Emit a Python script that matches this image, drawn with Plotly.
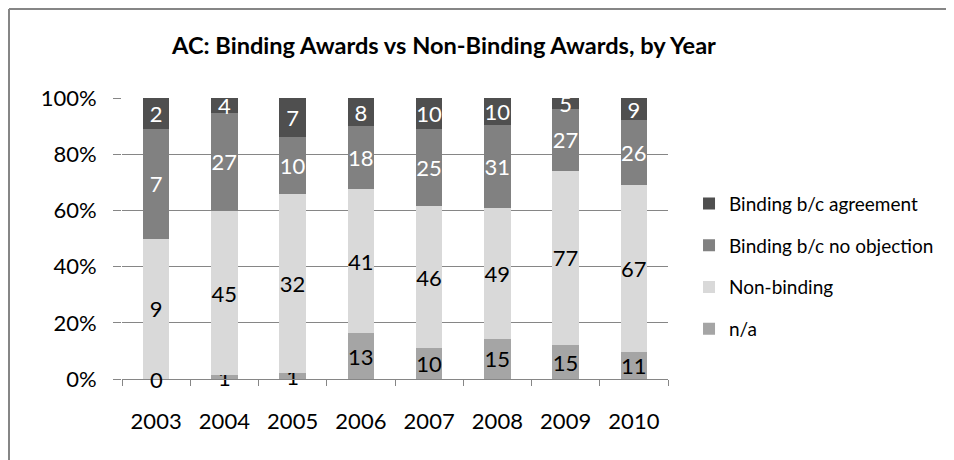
import plotly.graph_objs as go

# data
years = ['2003', '2004', '2005', '2006', '2007', '2008', '2009', '2010']
na_counts = [0, 1, 1, 13, 10, 15, 15, 11]
non_binding = [9, 45, 32, 41, 46, 49, 77, 67]
binding_no_objection = [7, 27, 10, 18, 25, 31, 27, 26]
binding_agreement = [2, 4, 7, 8, 10, 10, 5, 9]

series_names = ['n/a', 'Non-binding', 'Binding b/c no objection', 'Binding b/c agreement']
series_values = [na_counts, non_binding, binding_no_objection, binding_agreement]
series_colors = ['#a5a5a5', '#d9d9d9', '#818181', '#4f4f4f']
label_colors = ['black', 'black', 'white', 'white']

FONT = 'Lato'
GRID = '#868686'

# plot area in pixels (used for the outer frame lines)
W, H = 954, 460
L, R, T, B = 114, 294, 90, 89


def px_to_paper_x(px):
    return (px - L) / (W - L - R)


def px_to_paper_y(py):
    return (H - B - py) / (H - T - B)


fig = go.Figure()
for i, (name, vals, color, tcolor) in enumerate(zip(series_names, series_values, series_colors, label_colors)):
    fig.add_trace(go.Bar(
        x=years, y=vals, name=name, legendgroup=name,
        legendrank=1000 - i,  # top of stack first in the legend
        marker_color=color, marker_line_width=0,
        text=[str(v) for v in vals],
        textposition='inside', insidetextanchor='middle',
        textangle=0, constraintext='none',
        textfont=dict(family=FONT, size=22, color=tcolor),
        cliponaxis=False,
    ))

# zero-height segments get no bar text, so label them at the baseline
for idx, v in enumerate(na_counts):
    if v == 0:
        fig.add_annotation(x=idx, y=0, xref='x', yref='y', text=str(v), showarrow=False,
                           yanchor='middle',
                           font=dict(family=FONT, size=22, color='black'))

fig.update_layout(
    barmode='stack',
    barnorm='percent',
    bargap=0.61,
    width=W, height=H,
    margin=dict(l=L, r=R, t=T, b=B),
    paper_bgcolor='white',
    plot_bgcolor='white',
    font=dict(family=FONT, size=22, color='black'),
    title=dict(
        text='<b>AC: Binding Awards vs Non-Binding Awards, by Year</b>',
        font=dict(family=FONT, size=23.6, color='black'),
        x=0.457, xref='container', xanchor='center',
        y=0.917, yref='container', yanchor='middle',
    ),
    legend=dict(
        x=1.0385, xanchor='left',
        y=0.4014, yanchor='middle',
        traceorder='grouped',
        tracegroupgap=14,
        font=dict(family=FONT, size=19, color='black'),
        bgcolor='rgba(0,0,0,0)',
    ),
    showlegend=True,
)

fig.update_xaxes(
    type='category',
    categoryorder='array', categoryarray=years,
    showline=True, linecolor=GRID, linewidth=1,
    ticks='outside', tickson='boundaries', ticklen=6, tickcolor=GRID,
    ticklabelstandoff=23,
    showgrid=False,
    tickfont=dict(family=FONT, size=22),
)
fig.update_yaxes(
    type='linear',
    range=[0, 100.0001], dtick=20, tick0=0, ticksuffix='%',
    showgrid=True, gridcolor=GRID, gridwidth=1,
    zeroline=False, showline=False,
    ticks='outside', ticklen=8, tickcolor=GRID,
    ticklabelstandoff=12,
    tickfont=dict(family=FONT, size=22),
)

# chart frame: only the top and left edges show in the original
fig.add_shape(type='line', xref='paper', yref='paper',
              x0=px_to_paper_x(1), x1=px_to_paper_x(W),
              y0=px_to_paper_y(1), y1=px_to_paper_y(1),
              line=dict(color=GRID, width=2))
fig.add_shape(type='line', xref='paper', yref='paper',
              x0=px_to_paper_x(1), x1=px_to_paper_x(1),
              y0=px_to_paper_y(1), y1=px_to_paper_y(H),
              line=dict(color=GRID, width=2))

fig.write_html("out.html")
